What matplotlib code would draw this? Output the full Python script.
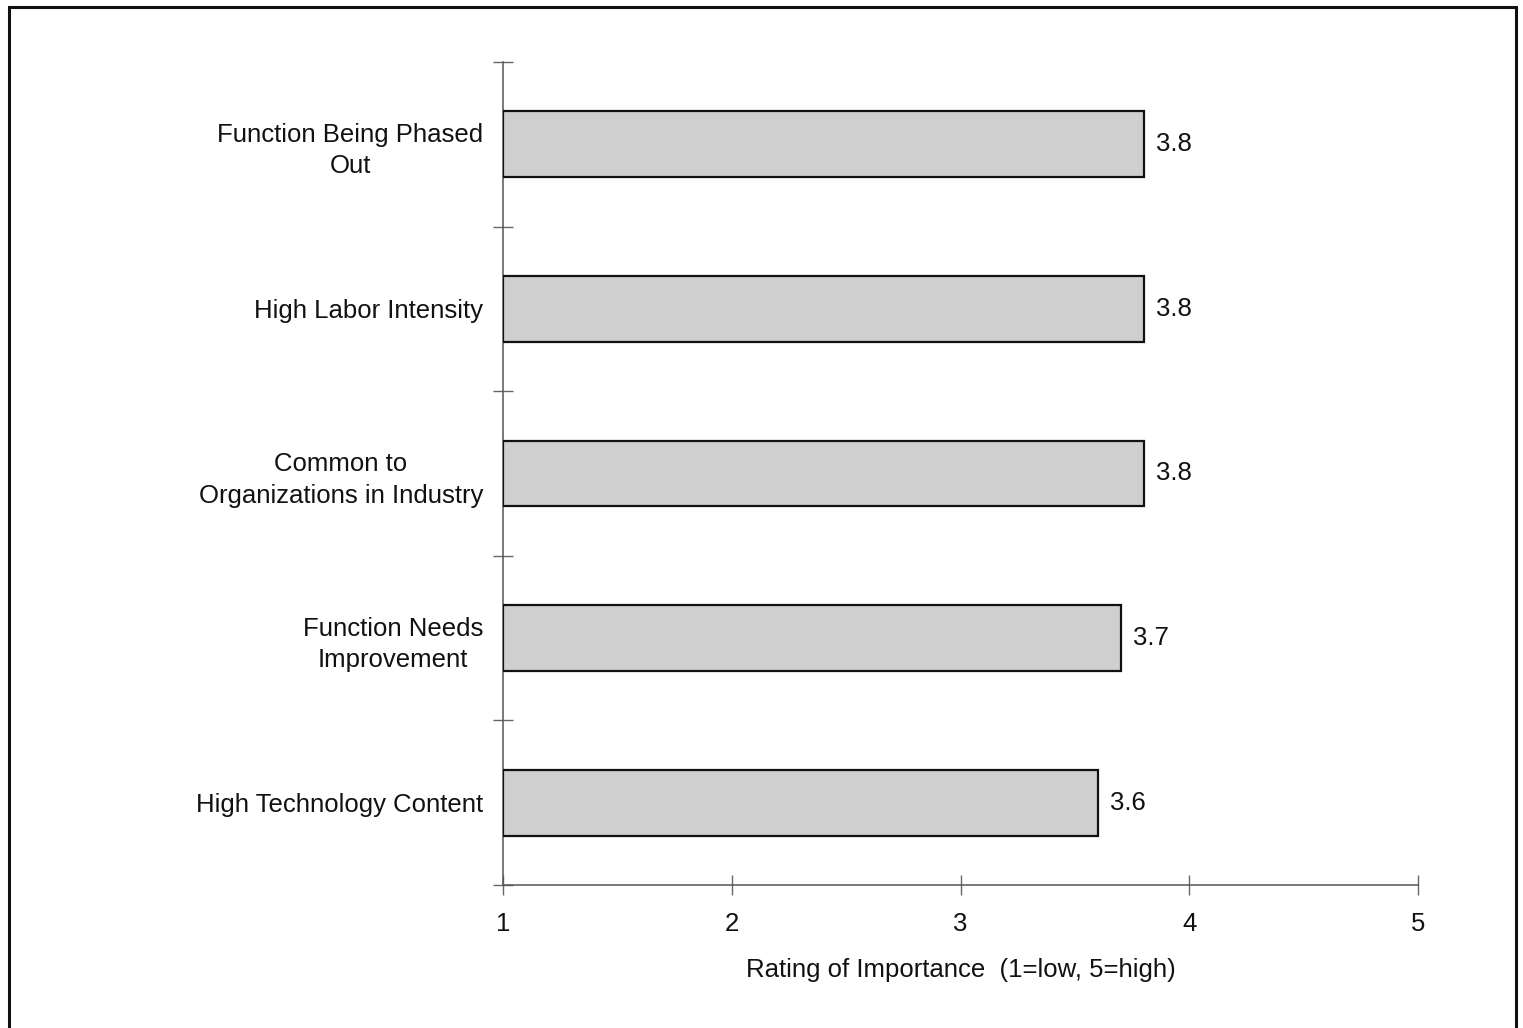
import matplotlib
matplotlib.use("Agg")
import matplotlib.pyplot as plt
from matplotlib.patches import Rectangle

plt.rcParams['font.family'] = ['Liberation Sans', 'DejaVu Sans']

categories = [
    "Function Being Phased\nOut",
    "High Labor Intensity",
    "Common to\nOrganizations in Industry",
    "Function Needs\nImprovement",
    "High Technology Content",
]
ratings = [3.8, 3.8, 3.8, 3.7, 3.6]
x_ticks = [1, 2, 3, 4, 5]
x_label = "Rating of Importance  (1=low, 5=high)"

FS = 18.5
W, H = 1523, 1028
fig = plt.figure(figsize=(W / 100, H / 100), dpi=100)
fig.patch.set_facecolor('white')

# outer frame (open at the bottom edge of the page)
fig.add_artist(Rectangle((9 / W, -0.05), (1516 - 9) / W, 1.05 - 7 / H,
                         transform=fig.transFigure, fill=False,
                         edgecolor='#111111', linewidth=2.2))

ax = fig.add_axes([503 / W, 1 - 885 / H, (1418 - 503) / W, (885 - 62) / H])

ypos = list(range(len(categories)))
ax.barh(ypos, [r - 1 for r in ratings], left=1, height=0.4,
        color='#cfcfcf', edgecolor='#111111', linewidth=1.6, zorder=3)

for y, r in zip(ypos, ratings):
    ax.text(r + 0.055, y, f"{r:.1f}", va='center', ha='left', fontsize=FS,
            color='#111111')

ax.set_xlim(1, 5)
ax.set_ylim(len(categories) - 0.5, -0.5)
ax.set_xticks(x_ticks)
ax.set_xticklabels([str(t) for t in x_ticks], fontsize=FS, color='#111111')
ax.set_yticks(ypos)
ax.set_yticklabels(categories, fontsize=FS, color='#111111',
                   multialignment='center', linespacing=1.4)
ax.set_yticks([i - 0.5 for i in range(len(categories) + 1)], minor=True)

ax.tick_params(axis='y', which='major', length=0, pad=14.4)
ax.tick_params(axis='y', which='minor', direction='inout', length=15,
               width=1, color='#666666')
ax.tick_params(axis='x', which='major', direction='inout', length=15,
               width=1, color='#666666', pad=12)

for s in ['top', 'right']:
    ax.spines[s].set_visible(False)
for s in ['left', 'bottom']:
    ax.spines[s].set_color('#555555')
    ax.spines[s].set_linewidth(1.1)

ax.set_xlabel(x_label, fontsize=FS, color='#111111', labelpad=16)

fig.savefig("out.png", dpi=100, facecolor='white')
